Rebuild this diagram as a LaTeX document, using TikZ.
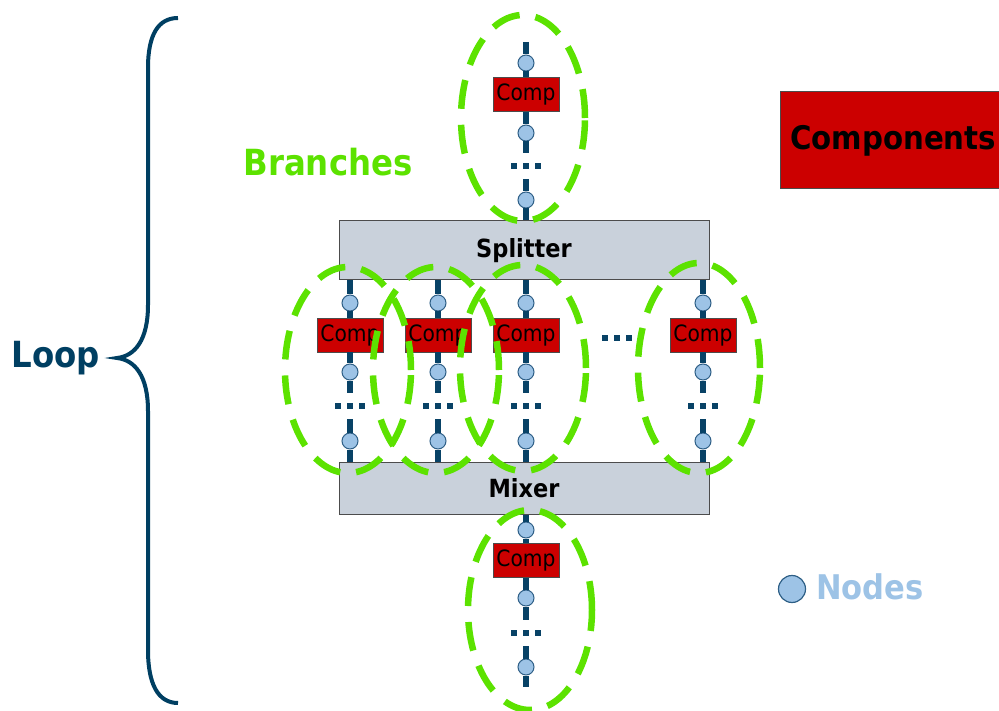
\documentclass[tikz,border=0pt]{standalone}
\usepackage{fontspec}
\setmainfont{DejaVu Sans Condensed}
\usetikzlibrary{shapes.geometric}

\definecolor{compred}{RGB}{204,0,0}
\definecolor{wireblue}{RGB}{8,66,102}
\definecolor{nodefill}{RGB}{157,195,230}
\definecolor{nodeedge}{RGB}{46,95,134}
\definecolor{unitgray}{RGB}{201,209,219}
\definecolor{limegreen}{RGB}{92,226,0}
\definecolor{loopblue}{RGB}{0,63,98}

\tikzset{
  wire/.style={draw=wireblue, line width=6pt},
  pt/.style={circle, fill=nodefill, draw=nodeedge, line width=1pt,
    minimum size=16pt, inner sep=0pt},
  comp/.style={rectangle, fill=compred, draw=black!70, line width=0.8pt,
    minimum width=66pt, minimum height=34pt, inner sep=0pt,
    font=\fontsize{22.5}{25}\selectfont},
  unit/.style={rectangle, fill=unitgray, draw=black!70, line width=1pt,
    minimum width=370pt, inner sep=0pt,
    font=\bfseries\fontsize{25}{28}\selectfont},
  dotsbox/.style={minimum height=26pt, minimum width=30pt, inner sep=0pt,
    text=wireblue},
  branch/.style={ellipse, draw=limegreen, line width=6.5pt,
    dash pattern=on 29pt off 16pt, inner sep=0pt},
  label/.style={font=\bfseries\fontsize{36}{40}\selectfont},
}
\newcommand{\threedots}{\rule{6pt}{6pt}\hspace{6pt}\rule{6pt}{6pt}\hspace{6pt}\rule{6pt}{6pt}}

\begin{document}
\begin{tikzpicture}[x=1pt,y=-1pt]
\useasboundingbox (0,0) rectangle (999,711);
\clip (0,0) rectangle (999,711);

% splitter and mixer
\node[unit, minimum height=59pt] (split) at (524,250.5) {Splitter};
\node[unit, minimum height=52pt] (mix) at (524,488) {Mixer};

% upstream branch
\coordinate (ttop) at (526,42);
\node[pt] (t1) at (526,63) {};
\node[comp] (tc) at (526,94.5) {Comp};
\node[pt] (t2) at (526,133) {};
\node[dotsbox] (td) at (526,166) {\threedots};
\node[pt] (t3) at (526,200) {};
\draw[wire] (ttop) -- (t1) -- (tc) -- (t2) -- (td);
\draw[wire] (td) -- (t3) -- (t3 |- split.north);

% parallel branches
\foreach \i/\x in {1/350,2/438,3/526,4/703}{
  \node[pt] (m\i a) at (\x,303) {};
  \node[comp] (m\i c) at (\x,335) {Comp};
  \node[pt] (m\i b) at (\x,372) {};
  \node[dotsbox] (m\i d) at (\x,406) {\threedots};
  \node[pt] (m\i e) at (\x,441) {};
  \draw[wire] (m\i a |- split.south) -- (m\i a) -- (m\i c) -- (m\i b) -- (m\i d);
  \draw[wire] (m\i d) -- (m\i e) -- (m\i e |- mix.north);
}
\node[dotsbox] (mgap) at (617,338) {\threedots};

% downstream branch
\node[pt] (b1) at (526,530) {};
\node[comp] (bc) at (526,560.5) {Comp};
\node[pt] (b2) at (526,598) {};
\node[dotsbox] (bd) at (526,633) {\threedots};
\node[pt] (b3) at (526,667) {};
\coordinate (bend) at (526,687);
\draw[wire] (b1 |- mix.south) -- (b1) -- (bc) -- (b2) -- (bd);
\draw[wire] (bd) -- (b3) -- (bend);

% branch outlines
\node[branch, minimum width=124pt, minimum height=206pt] (br0) at (523,118) {};
\node[branch, minimum width=126pt, minimum height=206pt] (br1) at (348,370) {};
\node[branch, minimum width=126pt, minimum height=206pt] (br2) at (436,370) {};
\node[branch, minimum width=126pt, minimum height=206pt] (br3) at (523,368) {};
\node[branch, minimum width=122pt, minimum height=210pt] (br4) at (699,368) {};
\node[branch, minimum width=124pt, minimum height=200pt] (br5) at (530,610) {};

% labels and legend
\node[label, text=limegreen] (branches) at (328,162) {Branches};
\node[rectangle, fill=compred, draw=black!70, line width=1pt, anchor=west,
  minimum height=97pt, minimum width=240pt, inner sep=0pt] (complegend)
  at (780,140.5) {};
\node[anchor=west, inner sep=0pt, font=\bfseries\fontsize{32.5}{36}\selectfont]
  (comptext) at (790,141) {Components};
\node[pt, minimum size=27pt, line width=1.2pt] (nodelegend) at (792,589) {};
\node[text=nodefill, anchor=west, inner sep=0pt,
  font=\bfseries\fontsize{34}{38}\selectfont] (nodestext) at (816,587) {Nodes};

% loop brace
\node[label, text=loopblue] (loop) at (56,358) {Loop};
\draw[draw=loopblue, line width=4pt]
  (178,18) .. controls (158,18) and (148,35) .. (148,68)
  -- (148,305) .. controls (148,340) and (135,356) .. (117,358)
  .. controls (135,360) and (148,376) .. (148,411)
  -- (148,650) .. controls (148,684) and (158,703) .. (178,703);
\end{tikzpicture}
\end{document}
